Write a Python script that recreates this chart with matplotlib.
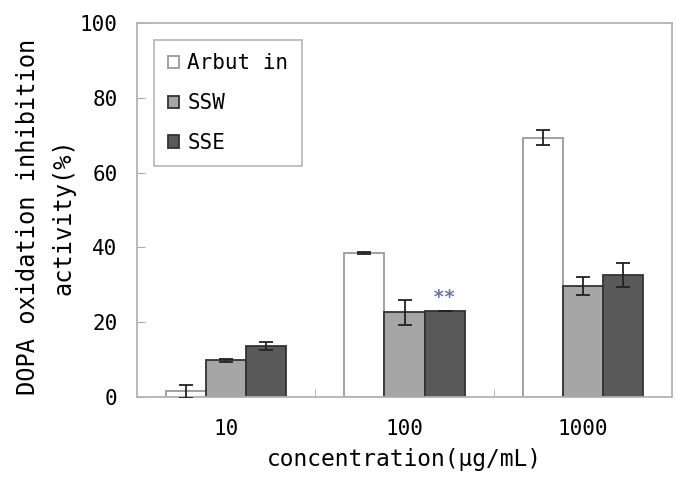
import matplotlib
matplotlib.use("Agg")
import matplotlib.pyplot as plt
import numpy as np

categories = ["10", "100", "1000"]
series_names = ["Arbut in", "SSW", "SSE"]
arbutin = [1.5, 38.5, 69.3]
arbutin_err = [1.8, 0.3, 2.0]
ssw = [9.8, 22.6, 29.7]
ssw_err = [0.4, 3.3, 2.5]
sse = [13.6, 23.0, 32.6]
sse_err = [1.0, 0.0, 3.1]
yticks = [0, 20, 40, 60, 80, 100]

plt.rcParams['font.family'] = ['DejaVu Sans Mono', 'DejaVu Sans']
fig = plt.figure(figsize=(6.76, 4.79), dpi=100)
ax = fig.add_axes([137/676, 1-397/479, (672-137)/676, (397-23)/479])

x = np.arange(len(categories))
w = 0.225
colors = ["#ffffff", "#a6a6a6", "#595959"]
edges = ["#9a9a9a", "#333333", "#333333"]
vals = [arbutin, ssw, sse]
errs = [arbutin_err, ssw_err, sse_err]
for i, (v, e) in enumerate(zip(vals, errs)):
    ax.bar(x + (i - 1) * w, v, w, color=colors[i], edgecolor=edges[i], linewidth=1.3,
           label=series_names[i], zorder=2)
    ax.errorbar(x + (i - 1) * w, v, yerr=e, fmt='none', ecolor="#222222",
                elinewidth=1.3, capsize=5, capthick=1.3, zorder=3)

ax.text(x[1] + w, sse[1] + 3.5, "**", ha='center', va='center', fontsize=14,
        color="#6a7a9a", fontweight='bold')

ax.set_xlim(-0.5, 2.5)
ax.set_ylim(0, 100)
ax.set_yticks(yticks)
ax.set_yticklabels([str(t) for t in yticks], fontsize=15)
ax.set_xticks(x)
ax.set_xticklabels(categories, fontsize=15)
ax.tick_params(axis='x', length=0, pad=16)
ax.set_xticks([0.5, 1.5], minor=True)
ax.tick_params(axis='x', which='minor', direction='in', length=6, color="#aaaaaa")
ax.tick_params(axis='y', direction='in', length=6, color="#aaaaaa", pad=14)
for s in ax.spines.values():
    s.set_color("#b3b3b3")
    s.set_linewidth(1.3)

ax.set_xlabel("concentration(μg/mL)", fontsize=16.5, labelpad=6)
fig.text(46/676, 1-217/479, "DOPA oxidation inhibition\nactivity(%)", fontsize=17,
         rotation=90, ha='center', va='center', multialignment='center',
         linespacing=1.6)

leg = ax.legend(loc='upper left', bbox_to_anchor=(0.032, 0.955), fontsize=15,
                frameon=True, fancybox=False, edgecolor="#aaaaaa",
                handlelength=0.55, handleheight=0.55, handletextpad=0.4,
                labelspacing=0.95, borderpad=0.65, borderaxespad=0)
leg.get_frame().set_linewidth(1.3)

fig.savefig("out.png", dpi=100)
